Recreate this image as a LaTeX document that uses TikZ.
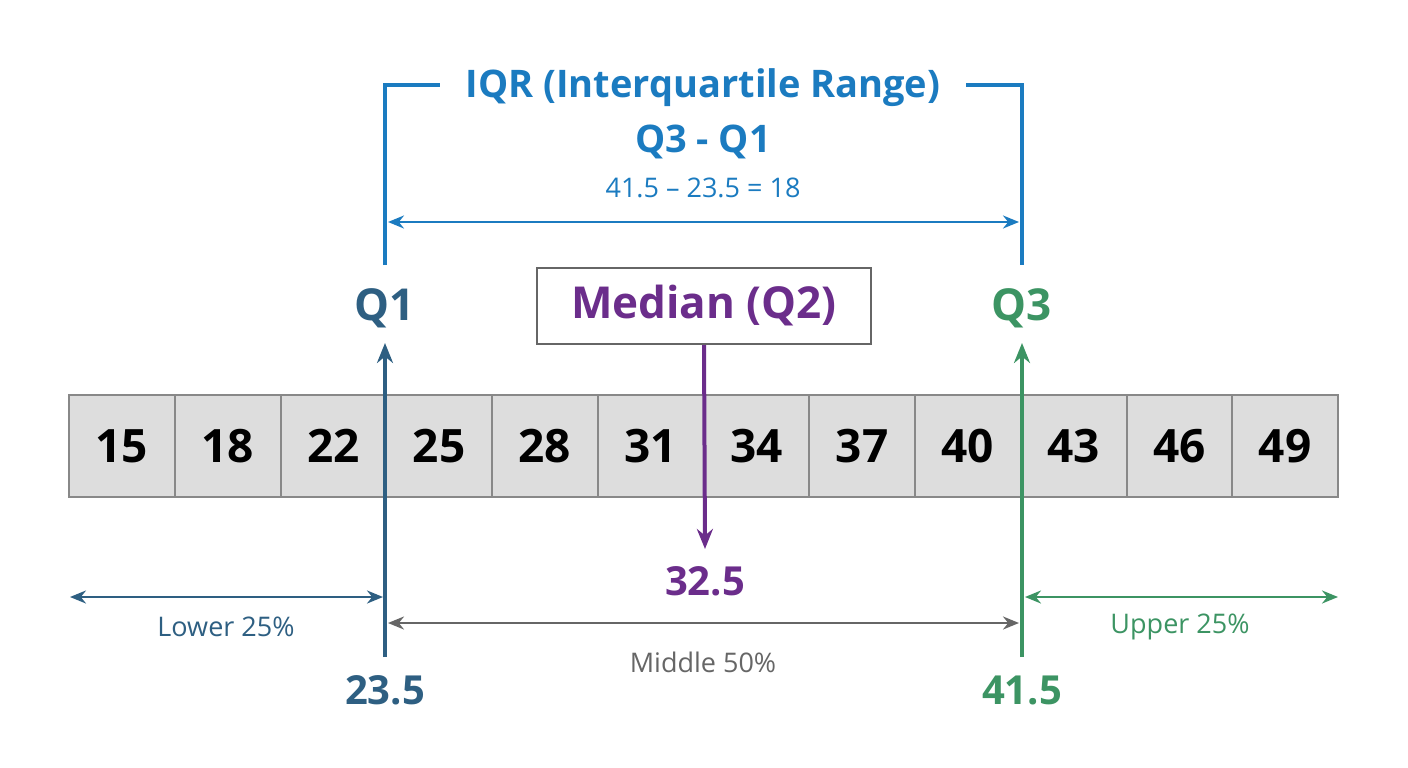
\documentclass[tikz,border=0pt]{standalone}
\usepackage{fontspec}
\setmainfont{Open Sans}
\usetikzlibrary{arrows.meta}
\definecolor{qblue}{HTML}{2E5F82}
\definecolor{iqr}{HTML}{1B7BC0}
\definecolor{qgreen}{HTML}{3C9463}
\definecolor{med}{HTML}{6B2D8B}
\definecolor{cellf}{HTML}{DDDDDD}
\definecolor{cellb}{HTML}{888888}
\definecolor{mid}{HTML}{666666}
\tikzset{
 cell/.style={draw=cellb,line width=2pt,fill=cellf,minimum width=105.75pt,minimum height=102pt,inner sep=0pt,font=\fontsize{46}{50}\selectfont\bfseries},
 tip/.style={-{Stealth[length=20pt,width=16pt]}},
 dtip/.style={{Stealth[length=16pt,width=13pt]}-{Stealth[length=16pt,width=13pt]}},
 lab/.style={font=\fontsize{27}{31}\selectfont},
 big/.style={font=\fontsize{44}{48}\selectfont\bfseries},
}
\begin{document}
\begin{tikzpicture}[x=1pt,y=-1pt]
\useasboundingbox[fill=white] (0,0) rectangle (1408,768);
\foreach \v [count=\i from 0] in {15,18,22,25,28,31,34,37,40,43,46,49}
  \node[cell] (c\i) at ({69+105.75*\i+52.875},446) {\v};
% IQR bracket
\node[text=iqr,font=\fontsize{38}{42}\selectfont\bfseries] (iqrt) at (703,88) {IQR (Interquartile Range)};
\node[text=iqr,font=\fontsize{38}{42}\selectfont\bfseries] (qq) at (703,142) {Q3 - Q1};
\node[text=iqr,lab] (eq) at (703,188) {41.5 – 23.5 = 18};
\coordinate (b1) at (385,265); \coordinate (b2) at (385,85); \coordinate (b3) at (440,85);
\coordinate (b4) at (966,85); \coordinate (b5) at (1022,85); \coordinate (b6) at (1022,265);
\draw[iqr,line width=4pt] (b1)--(b2)--(b3);
\draw[iqr,line width=4pt] (b4)--(b5)--(b6);
\coordinate (i1) at (388,222); \coordinate (i2) at (1019,222);
\draw[iqr,line width=2.5pt,dtip] (i1)--(i2);
% Q labels
\node[text=qblue,big] (q1) at (385,308) {Q1};
\node[text=qgreen,big] (q3) at (1022,308) {Q3};
\node[draw=mid,line width=2pt,fill=white,text=med,minimum width=334pt,minimum height=76pt,font=\fontsize{44}{48}\selectfont\bfseries] (md) at (704,306) {Median (Q2)};
% vertical arrows
\coordinate (q1b) at (385,657); \coordinate (q1t) at (385,343);
\coordinate (q3b) at (1022,657); \coordinate (q3t) at (1022,343);
\draw[qblue,line width=4pt,tip] (q1b)--(q1t);
\draw[qgreen,line width=4pt,tip] (q3b)--(q3t);
\coordinate (mb) at (705,549);
\draw[med,line width=4pt,tip] (md.south)--(mb);
\node[text=med,font=\fontsize{40}{44}\selectfont\bfseries] (mv) at (705,581) {32.5};
% range arrows
\coordinate (l1) at (70,597); \coordinate (l2) at (383,597);
\draw[qblue,line width=2.5pt,dtip] (l1)--(l2);
\node[text=qblue,lab] (lt) at (226,627) {Lower 25\%};
\coordinate (m1) at (388,623); \coordinate (m2) at (1019,623);
\draw[mid,line width=2.5pt,dtip] (m1)--(m2);
\node[text=mid,lab] (mt) at (703,662) {Middle 50\%};
\coordinate (u1) at (1025,597); \coordinate (u2) at (1338,597);
\draw[qgreen,line width=2.5pt,dtip] (u1)--(u2);
\node[text=qgreen,lab] (ut) at (1180,627) {Upper 25\%};
\node[text=qblue,font=\fontsize{40}{44}\selectfont\bfseries] (v1) at (385,690) {23.5};
\node[text=qgreen,font=\fontsize{40}{44}\selectfont\bfseries] (v3) at (1022,690) {41.5};
\end{tikzpicture}
\end{document}
